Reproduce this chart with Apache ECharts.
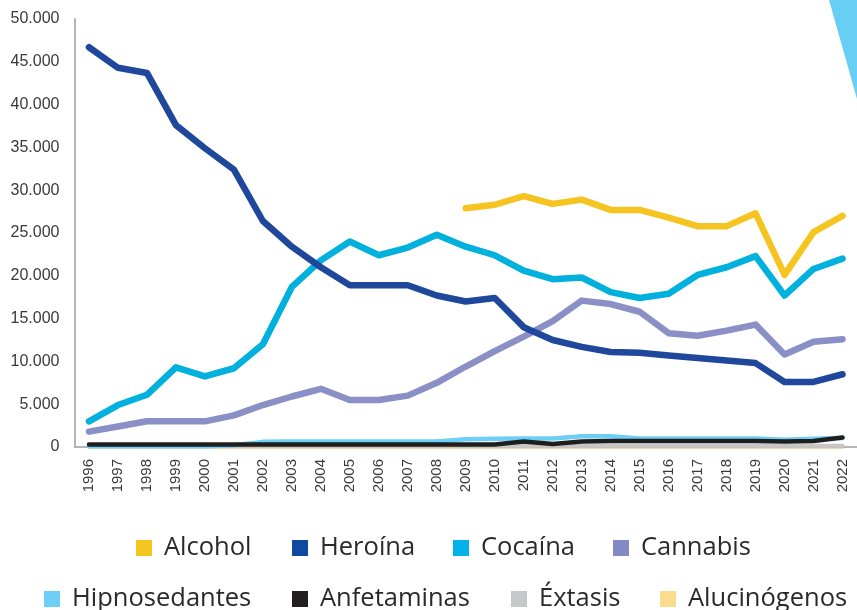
<!DOCTYPE html>
<html>
<head>
<meta charset="utf-8">
<script src="https://cdn.jsdelivr.net/npm/echarts@6/dist/echarts.min.js"></script>
<style>
html,body{margin:0;padding:0;background:#fff;}
#c{width:857px;height:610px;}
</style>
</head>
<body>
<div id="c"></div>
<script>
const years = ['1996','1997','1998','1999','2000','2001','2002','2003','2004','2005','2006','2007','2008','2009','2010','2011','2012','2013','2014','2015','2016','2017','2018','2019','2020','2021','2022'];
const alcohol = [null,null,null,null,null,null,null,null,null,null,null,null,null,27900,28300,29300,28400,28900,27700,27700,26800,25800,25800,27300,20100,25100,27000];
const heroina = [46700,44300,43700,37600,34900,32400,26400,23400,21000,18900,18900,18900,17700,17000,17400,14000,12500,11700,11100,11000,10700,10400,10100,9800,7600,7600,8500];
const cocaina = [3000,4900,6100,9300,8250,9200,12000,18700,21800,24000,22400,23300,24800,23400,22400,20600,19600,19800,18100,17400,17900,20100,21000,22300,17700,20800,22000];
const cannabis = [1800,2400,3000,3000,3000,3700,4900,5900,6800,5500,5500,6000,7500,9400,11200,12900,14700,17100,16700,15800,13300,13000,13600,14300,10800,12300,12600];
const hipnosedantes = [100,100,100,100,100,200,600,650,650,650,650,650,650,900,950,1000,1000,1250,1250,1000,1000,1000,1000,1000,850,950,1050];
const anfetaminas = [300,300,300,300,300,300,300,300,300,300,300,300,300,300,300,650,350,650,700,700,700,700,700,700,650,700,1100];
const extasis = [150,150,150,150,150,150,150,150,150,150,150,150,150,150,150,150,150,150,150,150,150,150,150,150,150,150,150];
const alucinogenos = [50,50,50,50,50,50,50,50,50,50,50,50,50,50,50,50,50,50,50,50,50,50,50,50,50,50,50];

const names = ['Alcohol','Heroína','Cocaína','Cannabis','Hipnosedantes','Anfetaminas','Éxtasis','Alucinógenos'];
const values = [alcohol, heroina, cocaina, cannabis, hipnosedantes, anfetaminas, extasis, alucinogenos];
const colors = ['#F6C421','#1F479B','#00B1DD','#8A8FC6','#6DCFF6','#1E1E1E','#C6C7C9','#D9B060'];
const legendColors = ['#F6C421','#0F4AA0','#00B2E8','#8389C4','#6DCFF6','#231F20','#C6C7C9','#F9DC8E'];
const widths = [6.5,6.5,6.5,6.5,4.5,4.5,4,4];

// legend positions: [left of square, top]
const legendPos = [[136,535],[292,535],[453,535],[613,535],[44,586],[292,586],[511,586],[660,586]];

const chart = echarts.init(document.getElementById('c'), null, {renderer:'canvas'});

const fmt = v => String(v).replace(/\B(?=(\d{3})+(?!\d))/g, '.');

const order = [7,6,4,5,3,0,2,1];
const series = order.map(i => ({
  name: names[i],
  type: 'line',
  data: values[i],
  symbol: 'none',
  smooth: false,
  connectNulls: false,
  clip: false,
  color: legendColors[i],
  lineStyle: {color: colors[i], width: widths[i], cap: 'round', join: 'round'},
  emphasis: {disabled: true},
  z: 2
}));

const legends = names.map((n, i) => ({
  data: [n],
  left: legendPos[i][0],
  top: legendPos[i][1],
  icon: 'rect',
  itemWidth: 16,
  itemHeight: 16,
  padding: 0,
  selectedMode: false,
  itemStyle: {color: legendColors[i]},
  textStyle: {fontFamily: 'Open Sans', fontSize: 25.5, color: '#2a2a2a', lineHeight: 26, padding: [0,0,0,7]}
}));

chart.setOption({
  animation: false,
  backgroundColor: '#fff',
  grid: {left: 74.5, top: 19, width: 790, height: 428, containLabel: false},
  xAxis: {
    type: 'category',
    data: years,
    boundaryGap: true,
    axisLine: {show: true, lineStyle: {color: '#B5B5B5', width: 2}},
    axisTick: {show: false},
    axisLabel: {rotate: 90, margin: 12, fontFamily: 'Liberation Sans', fontSize: 15, color: '#3a3a3a', interval: 0}
  },
  yAxis: {
    type: 'value',
    min: 0, max: 50000, interval: 5000,
    axisLine: {show: true, lineStyle: {color: '#B5B5B5', width: 2}},
    axisTick: {show: false},
    splitLine: {show: false},
    axisLabel: {margin: 15, fontFamily: 'Liberation Sans', fontSize: 16, color: '#3a3a3a', formatter: fmt}
  },
  legend: legends,
  series: series,
  graphic: [{
    type: 'polygon',
    shape: {points: [[829,0],[857,0],[857,99]]},
    style: {fill: '#67CEF4'}
  }]
});
</script>
</body>
</html>
